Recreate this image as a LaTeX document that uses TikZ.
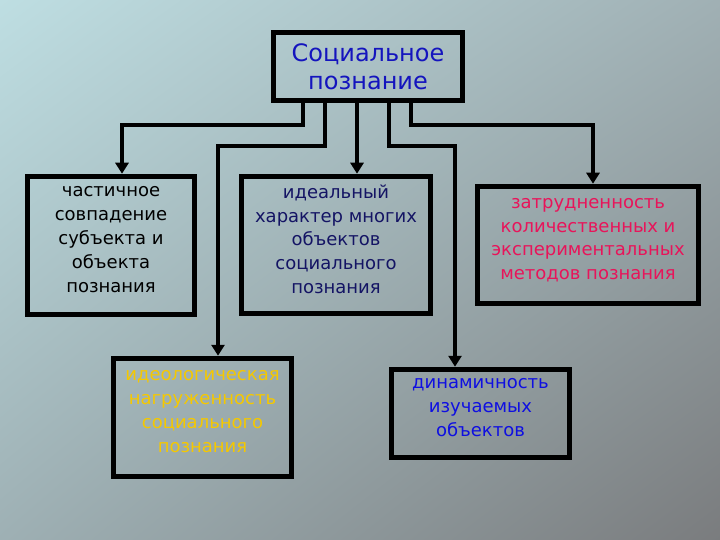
\documentclass[tikz,border=0pt]{standalone}
\usepackage{fontspec}
\setmainfont{DejaVu Sans}
\usetikzlibrary{arrows.meta,positioning,shadings}
\usepackage{xcolor}
\newcommand{\mylw}{5.5pt}
\definecolor{bgtl}{RGB}{190,222,226}
\definecolor{bgtr}{RGB}{160,176,180}
\definecolor{bgbl}{RGB}{158,176,180}
\definecolor{bgbr}{RGB}{122,124,126}
\definecolor{titleblue}{RGB}{20,20,190}
\definecolor{navyc}{RGB}{20,20,100}
\definecolor{crimsonc}{RGB}{232,20,90}
\definecolor{goldc}{RGB}{245,200,0}
\definecolor{bluec}{RGB}{15,15,225}
\tikzset{
    boxsty/.style={draw=black,line width=\mylw,rectangle,align=center,inner sep=0pt,text depth=12pt,font=\fontsize{18}{23.8}\selectfont},
    titlesty/.style={boxsty,text depth=0pt,font=\fontsize{24}{28}\selectfont,text=titleblue},
    arrsty/.style={line width=4pt,-{Triangle[width=13pt,length=11pt]}},
}

\begin{document}
\begin{tikzpicture}[x=1pt,y=-1pt]
  \shade[upper left=bgtl, upper right=bgtr, lower left=bgbl, lower right=bgbr] (0,0) rectangle (720,540);
  \useasboundingbox (0,0) rectangle (720,540);

  \node[titlesty, minimum width=189pt, minimum height=68pt] (soc) at (368,66.5) {Социальное\\познание};
  \node[boxsty, minimum width=167pt, minimum height=138pt] (part) at (111,245.5) {частичное\\совпадение\\субъекта и\\объекта\\познания};
  \node[boxsty, minimum width=189pt, minimum height=137pt, text=navyc] (ideal) at (336,245) {идеальный\\характер многих\\объектов\\социального\\познания};
  \node[boxsty, minimum width=221pt, minimum height=117pt, text=crimsonc] (diff) at (588,245) {затрудненность\\количественных и\\экспериментальных\\методов познания};
  \node[boxsty, minimum width=178pt, minimum height=118pt, text=goldc] (ideol) at (202.5,417.5) {идеологическая\\нагруженность\\социального\\познания};
  \node[boxsty, minimum width=178pt, minimum height=88pt, text=bluec] (dyn) at (480.5,413.5) {динамичность\\изучаемых\\объектов};

  \draw[arrsty] ([xshift=-65pt]soc.south) -- ++(0,22) -| ([xshift=11pt]part.north);
  \draw[arrsty] ([xshift=-43pt]soc.south) -- ++(0,43) -| ([xshift=15.5pt]ideol.north);
  \draw[arrsty] ([xshift=-11pt]soc.south) -- ([xshift=21pt]ideal.north);
  \draw[arrsty] ([xshift=21pt]soc.south) -- ++(0,43) -| ([xshift=-25.5pt]dyn.north);
  \draw[arrsty] ([xshift=43pt]soc.south) -- ++(0,22) -| ([xshift=5pt]diff.north);
\end{tikzpicture}
\end{document}
